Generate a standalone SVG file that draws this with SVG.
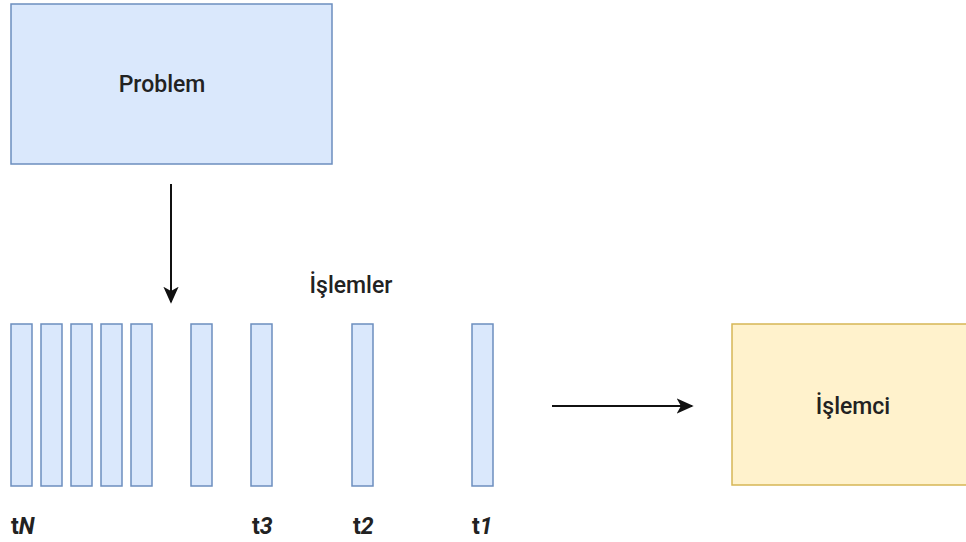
<svg xmlns="http://www.w3.org/2000/svg" width="966" height="542" viewBox="0 0 966 542">
  <style>
    .blue { fill: #dae8fc; stroke: #6c8ebf; stroke-width: 1.5; }
    .yellow { fill: #fff2cc; stroke: #d6b656; stroke-width: 1.5; }
    .lbl { font-family: Roboto, "Liberation Sans", sans-serif; font-size: 23px; font-weight: 500; fill: #222; }
    .tl { font-family: Roboto, "Liberation Sans", sans-serif; font-size: 23px; font-weight: 700; fill: #222; }
    .edge { stroke: #111; stroke-width: 2; fill: none; }
  </style>
  <defs>
    <marker id="arrowBig" viewBox="0 0 10 10" refX="9" refY="5" markerWidth="17" markerHeight="17" markerUnits="userSpaceOnUse" orient="auto">
      <path d="M0,0.5 L10,5 L0,9.5 L2.5,5 Z" fill="#111"/>
    </marker>
  </defs>
  <rect width="966" height="542" fill="#fff"/>

  <g id="problem">
    <rect class="blue" x="11" y="4" width="321" height="160"/>
    <text class="lbl" x="162" y="92" text-anchor="middle">Problem</text>
  </g>

  <g id="islemler-label">
    <text class="lbl" x="351" y="293" text-anchor="middle">İşlemler</text>
  </g>

  <g id="tasks">
    <rect class="blue" x="11" y="324" width="21" height="162"/>
    <rect class="blue" x="41" y="324" width="21" height="162"/>
    <rect class="blue" x="71" y="324" width="21" height="162"/>
    <rect class="blue" x="101" y="324" width="21" height="162"/>
    <rect class="blue" x="131" y="324" width="21" height="162"/>
    <rect class="blue" x="191" y="324" width="21" height="162"/>
    <rect class="blue" x="251" y="324" width="21" height="162"/>
    <rect class="blue" x="352" y="324" width="21" height="162"/>
    <rect class="blue" x="472" y="324" width="21" height="162"/>
  </g>

  <g id="task-labels">
    <text class="tl" x="11" y="534">t<tspan font-style="italic">N</tspan></text>
    <text class="tl" x="252" y="534">t<tspan font-style="italic">3</tspan></text>
    <text class="tl" x="353" y="534">t<tspan font-style="italic">2</tspan></text>
    <text class="tl" x="472" y="534">t<tspan font-style="italic">1</tspan></text>
  </g>

  <g id="islemci">
    <rect class="yellow" x="732" y="324" width="240" height="161"/>
    <text class="lbl" x="853" y="414" text-anchor="middle">İşlemci</text>
  </g>

  <g id="connectors">
    <line class="edge" x1="171" y1="184" x2="171" y2="302" marker-end="url(#arrowBig)"/>
    <line class="edge" x1="552" y1="406" x2="692" y2="406" marker-end="url(#arrowBig)"/>
  </g>
</svg>
